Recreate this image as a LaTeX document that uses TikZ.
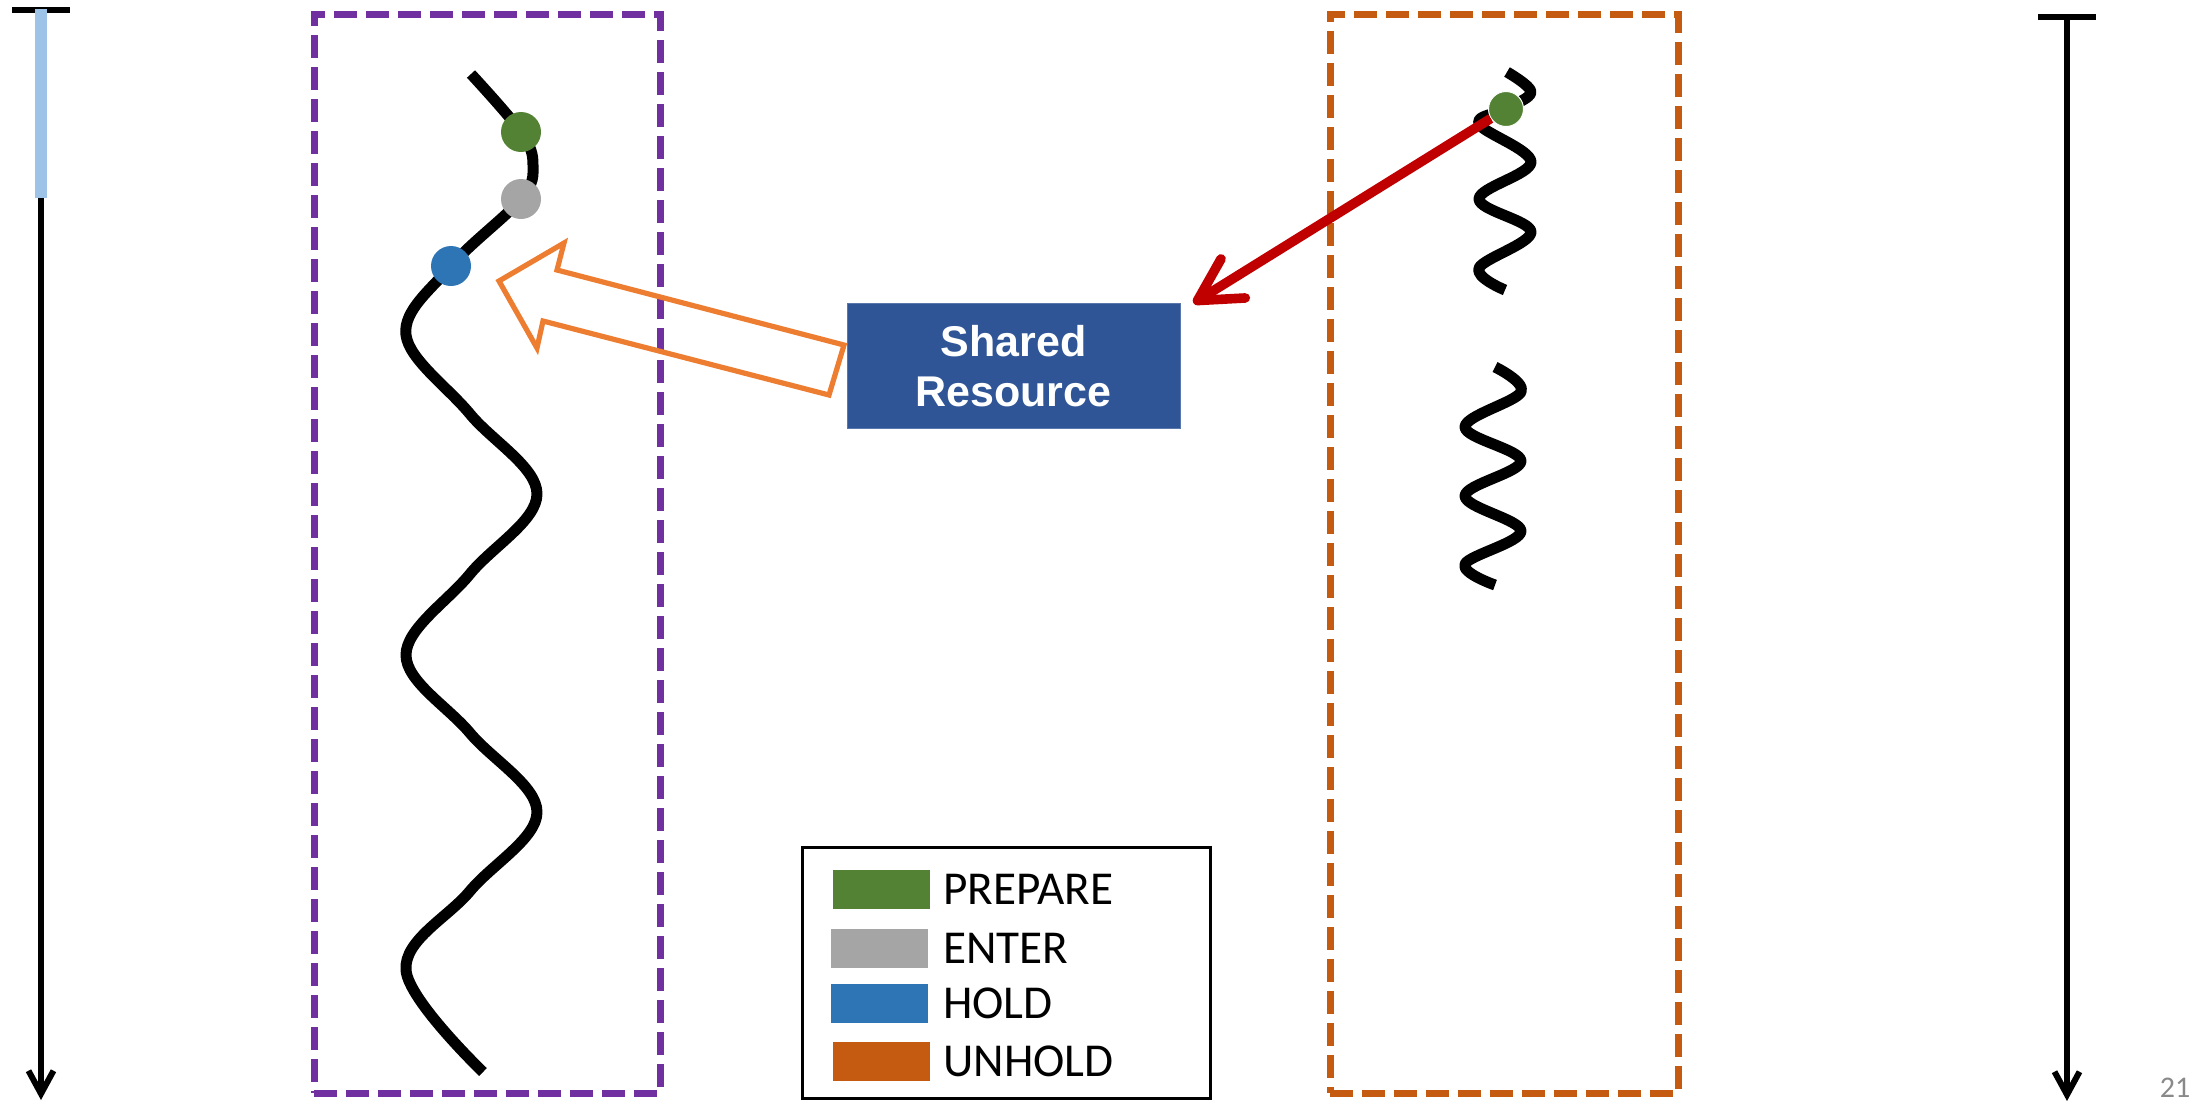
\documentclass[tikz,border=0pt]{standalone}
\usepackage{xcolor}
\usepackage{fontspec}
\setmainfont{Carlito}
\newfontfamily\resfont{Liberation Sans}
\usepackage{tikz}
\usetikzlibrary{arrows.meta}
\usetikzlibrary{positioning}
\definecolor{prepc}{HTML}{548235}
\definecolor{enterc}{HTML}{A5A5A5}
\definecolor{holdc}{HTML}{2E75B6}
\definecolor{unholdc}{HTML}{C55A11}
\definecolor{boxp}{HTML}{7030A0}
\definecolor{resc}{HTML}{2F5597}
\definecolor{grabc}{HTML}{C00000}
\definecolor{givec}{HTML}{ED7D31}
\definecolor{usedc}{HTML}{9DC3E6}
\definecolor{pagec}{HTML}{898989}
\tikzset{
  font={\fontsize{23.6}{28}\selectfont}}

\begin{document}
\begin{tikzpicture}[x=0.5pt, y=-0.5pt]

        \tikzset{timeline/.style = {line width=3pt, {Bar[width=29pt]}-{Straight Barb[length=11.5pt, width=12.5pt]}},
                 thread/.style = {line width=5.5pt, line join=round},
                 dot/.style = {circle, inner sep=0pt, minimum size=20pt},
                 tbox/.style = {rectangle, line width=3.5pt, dash pattern=on 11.5pt off 4.5pt,
                                minimum height=539.5pt},
                 swatch/.style = {rectangle, inner sep=0pt, minimum width=48.5pt, minimum height=19.5pt},
                 key/.style = {inner sep=0pt, anchor=west}}

        \useasboundingbox (0,0) rectangle (2200,1105);

        % time axes
        \coordinate (lt) at (41,7);
        \coordinate (lb) at (41,1100);
        \coordinate (lu) at (41,198);
        \coordinate (rt) at (2067,14);
        \coordinate (rb) at (2067,1101);
        \draw[timeline] (lt) -- (lb);
        \draw[usedc, line width=6pt] ([yshift=-1pt]lt) -- (lu);
        \draw[timeline] (rt) -- (rb);

        % thread boxes
        \node[tbox, draw=boxp, minimum width=173pt] (box1) at (487,553.5) {};
        \node[tbox, draw=unholdc, minimum width=174pt] (box2) at (1504,553.5) {};

        % threads
        \draw[thread] plot[smooth, tension=0.6] coordinates {(471,74) (521,132) (533,165) (521,199) (451,266)
            (406,335) (470,414) (537,494) (470,574) (406,655) (470,733) (537,812) (470,891) (406,970) (483,1072)};
        \draw[thread] plot[smooth, tension=0.6] coordinates {(1507,72) (1531,92) (1506,109)
            (1479,124) (1531,162) (1479,199) (1531,232) (1479,268) (1505,290)};
        \draw[thread] plot[smooth, tension=0.6] coordinates {(1495,367) (1521,392) (1465,427)
            (1521,461) (1465,496) (1521,531) (1465,564) (1495,585)};

        % events
        \node[dot, fill=prepc] (prep1) at (521,132) {};
        \node[dot, fill=enterc] (enter1) at (521,199) {};
        \node[dot, fill=holdc] (hold1) at (451,266) {};
        \node[dot, fill=prepc, draw=white, line width=0.5pt, minimum size=17.5pt] (prep2) at (1506,109) {};

        % resource
        \node[rectangle, fill=resc, draw=resc!80!white, minimum width=166.5pt, minimum height=62.5pt,
              text=white, align=center, font=\resfont\bfseries\fontsize{21.5}{25}\selectfont] (res)
            at (1013.5,366) {Shared\\Resource};

        %edges
        \draw[givec, line width=2.6pt, line join=miter] (499,281) -- (564,243) -- (557,270) -- (844,345)
            -- (829,395) -- (543,321) -- (537,348) -- cycle;
        \draw[grabc, line width=4.8pt, -{Straight Barb[length=21pt, width=23pt, round]}]
            (prep2) -- ([xshift=6.5pt]res.north east);

        % legend
        \node[draw, line width=1.5pt, minimum width=204pt, minimum height=125.5pt] (legend) at (1006,972.5) {};
        \node[swatch, fill=prepc] (kprep) at (881,889) {};
        \node[swatch, fill=enterc] (kenter) at (879,948) {};
        \node[swatch, fill=holdc] (khold) at (879,1003) {};
        \node[swatch, fill=unholdc] (kunhold) at (881,1061) {};
        \node[key, right=6.5pt of kprep] (tprep) {PREPARE};
        \node[key, right=7.5pt of kenter] (tenter) {ENTER};
        \node[key, right=7.5pt of khold] (thold) {HOLD};
        \node[key, right=6.5pt of kunhold] (tunhold) {UNHOLD};

        \node[text=pagec, font=\fontsize{15}{18}\selectfont] (page) at (2175,1088) {21};

\end{tikzpicture}
\end{document}
